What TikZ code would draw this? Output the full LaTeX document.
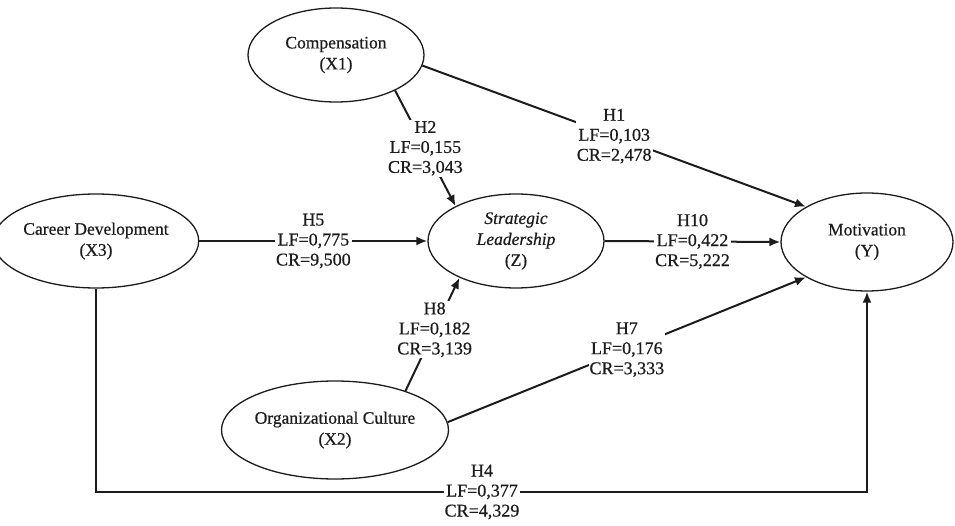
\documentclass[tikz,border=0pt]{standalone}
\usepackage{fontspec}
\setmainfont{Liberation Serif}[FakeBold=0.6]
\usetikzlibrary{arrows.meta,shapes.geometric}
\definecolor{ink}{HTML}{1C1C1C}

\begin{document}
\begin{tikzpicture}[x=1pt,y=-1pt,
  construct/.style={draw=ink,line width=1.3pt,ellipse,inner sep=0pt,
        minimum width=176pt,minimum height=94pt,align=center,text=ink,
        font=\fontsize{17.5}{21}\selectfont},
  link/.style={draw=ink,line width=2pt,-{Latex[length=11pt,width=9pt]}},
  coef/.style={fill=white,inner sep=1pt,align=center,text=ink,
        font=\fontsize{18}{20}\selectfont}]
  \useasboundingbox (0,0) rectangle (955,526);

  % constructs
  \node[construct] (comp) at (336,55)  {Compensation\\(X1)};
  \node[construct] (car)  at (96,241)  {Career Development\\(X3)};
  \node[construct] (lead) at (516,241) {\textit{Strategic}\\\textit{Leadership}\\(Z)};
  \node[construct,minimum width=172pt,minimum height=98pt]
                   (mot)  at (867,242) {Motivation\\(Y)};
  \node[construct,minimum height=98pt]
                   (org)  at (335,430) {Organizational Culture\\(X2)};

  % paths
  \draw[link] (comp.-7) -- node[coef] {H1\\LF=0,103\\CR=2,478} (mot.150);
  \draw[link] (comp.-31) -- node[coef] {H2\\LF=0,155\\CR=3,043} (lead.150);
  \draw[link] (car.east) -- node[coef] {H5\\LF=0,775\\CR=9,500} (lead.west);
  \draw[link] (lead.east) -- node[coef] {H10\\LF=0,422\\CR=5,222} (mot.west);
  \draw[link] (org.29) -- node[coef,pos=0.54] {H8\\LF=0,182\\CR=3,139} (lead.-147);
  \draw[link] (org.4) -- node[coef] {H7\\LF=0,176\\CR=3,333} (mot.210);
  \coordinate (low) at (482,492);
  \draw[link] (car.south) |- (low) node[coef] {H4\\LF=0,377\\CR=4,329} -| (mot.south);
\end{tikzpicture}
\end{document}
